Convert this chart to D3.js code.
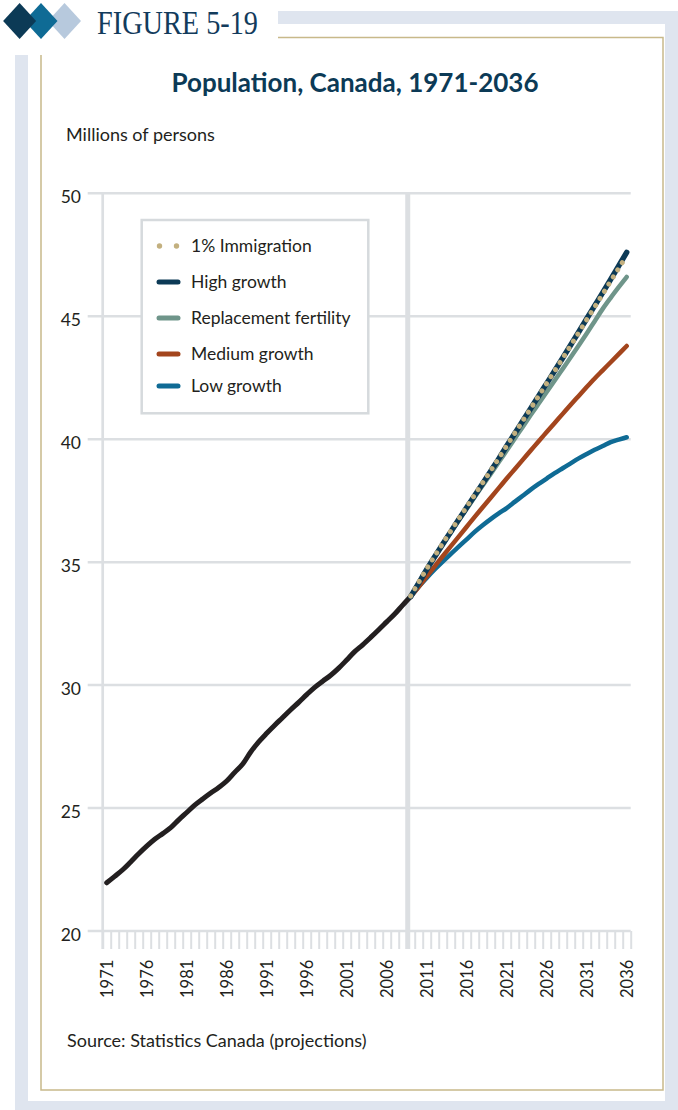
<!DOCTYPE html>
<html><head><meta charset="utf-8">
<script src="https://cdn.jsdelivr.net/npm/d3@7"></script>
<style>
html,body{margin:0;padding:0;background:#fff;}
svg{display:block;}
text{font-family:Lato,"Open Sans",sans-serif;fill:#231f20;}
</style></head>
<body>
<script>
// ---------- DATA ----------
const histYears = d3.range(1971, 2010);
const histValues = [21.96,22.22,22.49,22.81,23.14,23.45,23.73,23.96,24.20,24.52,
  24.82,25.12,25.37,25.61,25.84,26.10,26.45,26.79,27.28,27.69,
  28.04,28.37,28.68,29.00,29.30,29.61,29.91,30.16,30.40,30.69,
  31.02,31.36,31.64,31.94,32.25,32.57,32.89,33.25,33.60];
const projYears = d3.range(2009, 2037);
const lowGrowth = [33.60,34.00,34.36,34.70,35.02,35.33,35.63,35.93,36.23,36.50,36.75,36.98,37.20,37.45,37.70,37.95,38.18,38.40,38.62,38.82,39.02,39.22,39.40,39.57,39.72,39.88,39.98,40.08];
const mediumGrowth = [33.60,34.00,34.42,34.83,35.24,35.64,36.04,36.44,36.84,37.23,37.62,38.01,38.40,38.78,39.16,39.54,39.92,40.29,40.66,41.03,41.40,41.76,42.12,42.47,42.80,43.13,43.46,43.79];
const replacementFertility = [33.60,34.15,34.70,35.21,35.71,36.20,36.69,37.17,37.65,38.12,38.59,39.06,39.54,40.02,40.50,40.98,41.45,41.92,42.39,42.86,43.33,43.81,44.30,44.80,45.30,45.75,46.18,46.60];
const highGrowth = [33.60,34.15,34.70,35.22,35.73,36.23,36.73,37.22,37.71,38.20,38.70,39.20,39.72,40.23,40.74,41.25,41.76,42.27,42.78,43.30,43.83,44.36,44.90,45.43,45.96,46.50,47.05,47.60];
const immigration1pct = [33.62,34.18,34.73,35.25,35.76,36.26,36.76,37.25,37.74,38.23,38.72,39.22,39.73,40.24,40.74,41.25,41.76,42.27,42.78,43.29,43.81,44.33,44.86,45.38,45.90,46.43,46.95,47.46];
const yTicks = [20,25,30,35,40,45,50];
const xTickLabels = d3.range(1971, 2037, 5);
const legendLabels = ["1% Immigration","High growth","Replacement fertility","Medium growth","Low growth"];

// ---------- STYLE ----------
const W = 678, H = 1110;
const colors = {
  hist: "#231f20",
  imm: "#c3b07f",
  high: "#0c3a56",
  repl: "#6f958a",
  med: "#a3451d",
  low: "#0f6b95"
};
const gridColor = "#dcdfe2";

const svg = d3.select("body").append("svg").attr("width", W).attr("height", H);

// ---------- FRAME ----------
svg.append("rect").attr("x",15).attr("y",11).attr("width",W-15).attr("height",H-11).attr("fill","#dfe5ef");
svg.append("rect").attr("x",28).attr("y",24).attr("width",637).attr("height",1077).attr("fill","#fff");
svg.append("rect").attr("x",41).attr("y",37.5).attr("width",622).attr("height",1052.5)
  .attr("fill","none").attr("stroke","#c8b98a").attr("stroke-width",1.5);
svg.append("rect").attr("x",0).attr("y",0).attr("width",278).attr("height",55).attr("fill","#fff");

// diamonds
const diamonds = [{cx:64.5,c:"#b7c9dd"},{cx:41,c:"#0f6b95"},{cx:19.6,c:"#0c3a56"}];
svg.selectAll("path.dia").data(diamonds).enter().append("path")
  .attr("d", d => `M${d.cx-16.5},21 L${d.cx},3 L${d.cx+16.5},21 L${d.cx},39 Z`)
  .attr("fill", d => d.c);
svg.append("text").attr("x",97).attr("y",33.5)
  .attr("textLength",161).attr("lengthAdjust","spacingAndGlyphs")
  .style("font-family","'Liberation Serif','DejaVu Serif',serif").style("font-size","33px")
  .style("fill","#123b5c").text("FIGURE 5-19");

// title
svg.append("text").attr("x",355).attr("y",92).attr("text-anchor","middle")
  .style("font-size","26px").style("font-weight","700").style("fill","#0c3a56")
  .text("Population, Canada, 1971-2036");
svg.append("text").attr("x",66).attr("y",141).style("font-size","18px").text("Millions of persons");

// ---------- SCALES ----------
const x = d3.scaleLinear().domain([1970.5, 2036.5]).range([102.7, 630.7]);
const y = d3.scaleLinear().domain([20, 50]).range([931, 193.3]);

// gridlines
const gridG = svg.append("g");
gridG.selectAll("line.h").data(yTicks).enter().append("line")
  .attr("x1",87.7).attr("x2",x(2036.5)).attr("y1",d=>y(d)).attr("y2",d=>y(d))
  .attr("stroke",gridColor).attr("stroke-width",2.5);
// y labels
svg.selectAll("text.yl").data(yTicks).enter().append("text")
  .attr("x",81).attr("y",d=>y(d)+4).attr("dy","0.35em").attr("text-anchor","end")
  .style("font-size","17.5px").text(d=>d);

// x axis ticks (category boundaries)
const xAxis = d3.axisBottom(x).tickValues(d3.range(1970.5, 2037, 1)).tickSize(18).tickFormat("");
const xg = svg.append("g").attr("transform",`translate(0,${y(20)})`).call(xAxis);
xg.select(".domain").remove();
xg.selectAll(".tick line").attr("stroke",gridColor).attr("stroke-width",2);
// left vertical axis line
svg.append("line").attr("x1",x(1970.5)).attr("x2",x(1970.5)).attr("y1",y(50)).attr("y2",y(20)+18)
  .attr("stroke",gridColor).attr("stroke-width",2.7);
// divider
svg.append("line").attr("x1",x(2008.63)).attr("x2",x(2008.63)).attr("y1",y(50)).attr("y2",y(20)+18)
  .attr("stroke",gridColor).attr("stroke-width",5);

// x labels
svg.selectAll("text.xl").data(xTickLabels).enter().append("text")
  .attr("transform",d=>`translate(${x(d)},998) rotate(-90)`)
  .attr("dy","0.36em").attr("text-anchor","start")
  .style("font-size","16.5px").text(d=>d);

// ---------- LINES ----------
const line = d3.line().x(d=>x(d[0])).y(d=>y(d[1])).curve(d3.curveMonotoneX);
const zip = (ys, vs) => ys.map((yr,i)=>[yr, vs[i]]);
const lg = svg.append("g").attr("fill","none").attr("stroke-linecap","round").attr("stroke-linejoin","round");
lg.append("path").attr("d",line(zip(histYears,histValues))).attr("stroke",colors.hist).attr("stroke-width",5);
lg.append("path").attr("d",line(zip(projYears,lowGrowth))).attr("stroke",colors.low).attr("stroke-width",4.5);
lg.append("path").attr("d",line(zip(projYears,mediumGrowth))).attr("stroke",colors.med).attr("stroke-width",4.5);
lg.append("path").attr("d",line(zip(projYears,replacementFertility))).attr("stroke",colors.repl).attr("stroke-width",4.5);
lg.append("path").attr("d",line(zip(projYears,highGrowth))).attr("stroke",colors.high).attr("stroke-width",5.5);
lg.append("path").attr("d",line(zip(projYears,immigration1pct))).attr("stroke",colors.imm).attr("stroke-width",5)
  .attr("stroke-dasharray","0.1 8.3");

// ---------- LEGEND ----------
svg.append("rect").attr("x",141.7).attr("y",220).attr("width",226.6).attr("height",193.3)
  .attr("fill","#fff").attr("stroke","#d6dadd").attr("stroke-width",2.5);
const legendColors = [colors.imm, colors.high, colors.repl, colors.med, colors.low];
const legendY = [246, 282, 318, 354, 386];
const leg = svg.append("g");
legendLabels.forEach((lab,i)=>{
  const g = leg.append("g");
  if(i===0){
    g.selectAll("circle").data([159.5,176.5]).enter().append("circle")
      .attr("cx",d=>d).attr("cy",legendY[i]).attr("r",2.7).attr("fill",legendColors[i]);
  } else {
    g.append("line").attr("x1",159).attr("x2",178).attr("y1",legendY[i]).attr("y2",legendY[i])
      .attr("stroke",legendColors[i]).attr("stroke-width",5).attr("stroke-linecap","round");
  }
  g.append("text").attr("x",191).attr("y",legendY[i]).attr("dy","0.35em")
    .style("font-size","17.5px").text(lab);
});

// source
svg.append("text").attr("x",67).attr("y",1047).style("font-size","18px")
  .text("Source: Statistics Canada (projections)");
</script>
</body></html>
